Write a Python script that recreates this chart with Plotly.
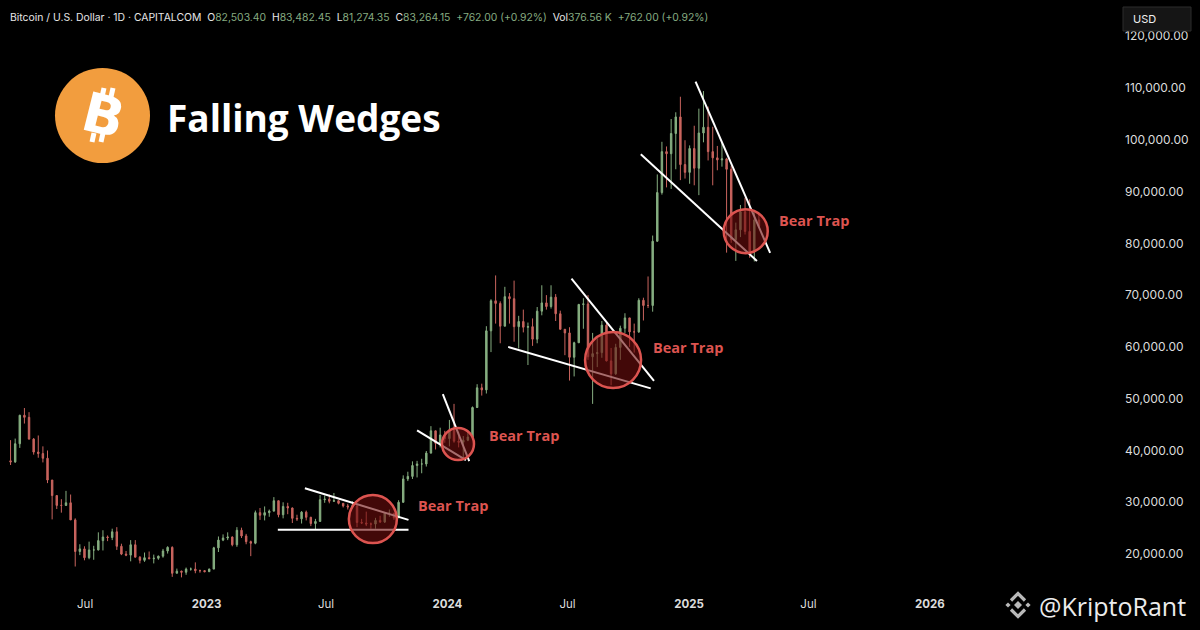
import numpy as np
import pandas as pd
import plotly.graph_objects as go

# ---- weekly candles, Bitcoin / U.S. Dollar, values in thousands of USD ----
first_week = "2022-03-10"   # mid-week of first candle, one candle per week

opens = [
    # 2022
    38.0, 37.8, 41.3, 46.8, 46.4, 42.2, 39.7, 39.4, 38.5, 34.3, 31.3, 29.4, 29.4, 29.9, 26.6,
    20.5, 21.0, 19.3, 20.8, 20.8, 22.6, 23.3, 23.2, 24.3, 21.5, 20.0, 19.8, 21.8, 19.4, 18.8,
    19.3, 19.1, 19.2, 19.6, 20.6, 21.3, 16.3, 16.7, 16.5, 17.1, 17.1, 16.8, 16.8,
    # 2023
    16.6, 17.1, 21.2, 22.7, 23.1, 23.3, 21.8, 24.6, 23.5, 22.4, 22.1, 28.0, 27.5, 28.0, 28.3,
    30.3, 27.6, 29.2, 28.9, 26.9, 26.8, 28.1, 27.1, 25.9, 26.3, 30.5, 30.6, 30.2, 30.3, 29.8,
    29.3, 29.1, 29.3, 26.1, 26.0, 25.8, 25.8, 26.5, 26.2, 27.9, 27.9, 27.0, 30.0, 34.5, 35.0,
    37.1, 37.4, 37.4, 39.5, 43.8, 41.4, 43.0,
    # 2024
    42.3, 43.9, 41.8, 41.6, 42.0, 42.6, 48.3, 52.1, 51.7, 63.1, 68.9, 68.4, 64.0, 69.7, 69.3,
    63.9, 64.9, 63.8, 63.9, 61.5, 66.9, 68.5, 67.8, 69.6, 66.4, 63.4, 62.7, 58.0, 60.8, 68.2,
    68.3, 58.1, 58.7, 58.9, 64.2, 57.3, 54.8, 59.9, 63.6, 65.6, 62.9, 62.9, 69.0, 68.0, 68.0,
    80.4, 89.8, 97.7, 97.3, 101.2, 104.4, 95.2, 93.7,
    # 2025
    98.3, 94.5, 101.3, 102.4, 97.7, 96.5, 96.1, 96.3, 94.3, 80.7, 82.6, 86.1, 82.3, 78.4, 84.5,
]
highs = [
    42.0, 42.3, 46.9, 48.2, 47.4, 42.4, 42.9, 40.8, 40.0, 34.3, 31.3, 30.6, 32.2, 31.5, 26.9,
    21.9, 21.5, 22.4, 21.6, 24.2, 24.6, 23.6, 24.9, 25.2, 22.0, 20.6, 22.7, 22.7, 19.6, 20.3,
    20.5, 19.9, 19.7, 21.0, 21.5, 21.5, 17.2, 16.8, 17.4, 17.4, 18.4, 17.0, 16.9,
    17.2, 21.4, 23.4, 23.8, 24.2, 23.4, 25.2, 25.1, 23.9, 22.6, 28.4, 28.9, 29.2, 28.6, 31.0,
    30.3, 30.0, 29.9, 29.0, 27.6, 28.3, 28.4, 27.2, 26.8, 31.4, 31.3, 31.5, 31.8, 30.4, 29.8,
    29.7, 30.2, 29.6, 26.8, 28.2, 26.1, 27.0, 27.4, 28.0, 28.6, 27.9, 30.4, 35.2, 35.9, 37.9,
    38.0, 38.4, 39.9, 44.7, 43.8, 44.4, 43.8,
    45.9, 49.0, 43.6, 42.8, 43.9, 48.5, 52.8, 52.9, 64.0, 69.2, 73.8, 68.8, 71.6, 70.4, 72.8,
    66.0, 67.2, 64.7, 65.5, 67.7, 71.9, 70.0, 71.9, 70.2, 67.0, 63.4, 63.8, 61.0, 68.3, 69.4,
    70.0, 62.7, 61.7, 65.0, 64.9, 59.8, 60.6, 64.1, 66.5, 65.6, 64.5, 69.4, 69.5, 73.6, 81.5,
    93.3, 99.6, 98.7, 104.0, 105.3, 108.3, 99.9, 98.9,
    102.7, 106.0, 109.4, 106.4, 102.5, 98.8, 99.5, 96.5, 95.0, 84.0, 87.4, 88.8, 88.5, 86.0, 85.8,
]
lows = [
    37.2, 37.6, 40.5, 45.2, 42.1, 39.2, 38.6, 37.7, 33.7, 26.7, 28.7, 28.0, 29.3, 26.6, 17.6,
    19.8, 18.8, 19.0, 18.9, 20.7, 20.7, 22.5, 22.7, 20.8, 19.8, 19.6, 18.6, 19.4, 18.2, 18.5,
    19.1, 18.2, 18.9, 19.3, 20.1, 15.6, 16.3, 15.5, 16.0, 16.8, 16.3, 16.4, 16.5,
    16.6, 17.1, 20.4, 22.5, 22.7, 21.5, 21.4, 23.1, 21.9, 19.6, 21.9, 26.6, 26.5, 27.2, 28.2,
    27.1, 26.9, 27.7, 26.0, 26.4, 25.9, 26.5, 25.4, 24.8, 26.3, 29.9, 29.8, 30.1, 29.6, 29.0,
    28.6, 28.8, 25.2, 25.8, 25.4, 24.9, 24.9, 26.0, 26.0, 27.2, 26.6, 27.0, 29.9, 34.1, 34.5,
    34.8, 35.6, 36.9, 39.4, 40.2, 40.6, 41.5,
    40.8, 41.5, 40.6, 38.5, 41.8, 42.3, 48.2, 50.6, 51.0, 59.0, 64.5, 60.7, 64.0, 64.5, 61.0,
    59.7, 62.8, 56.5, 60.2, 60.7, 66.1, 67.2, 67.4, 65.0, 63.4, 58.4, 53.5, 54.3, 60.8, 63.5,
    57.5, 49.0, 56.1, 57.9, 57.2, 52.6, 54.6, 57.5, 62.7, 60.0, 58.9, 62.7, 65.1, 67.5, 66.8,
    80.3, 89.4, 90.8, 90.5, 94.3, 92.2, 92.5, 91.5,
    91.2, 89.3, 99.5, 96.0, 91.2, 94.1, 94.8, 78.2, 80.1, 76.6, 81.2, 81.7, 77.2, 76.5, 83.0,
]
closes = [
    37.8, 41.3, 46.8, 46.4, 42.2, 39.7, 39.4, 38.5, 34.3, 31.3, 29.4, 29.4, 29.9, 26.6, 20.5,
    21.0, 19.3, 20.8, 20.8, 22.6, 23.3, 23.2, 24.3, 21.5, 20.0, 19.8, 21.8, 19.4, 18.8, 19.3,
    19.1, 19.2, 19.6, 20.6, 21.3, 16.3, 16.7, 16.5, 17.1, 17.1, 16.8, 16.8, 16.6,
    17.1, 21.2, 22.7, 23.1, 23.3, 21.8, 24.6, 23.5, 22.4, 22.1, 28.0, 27.5, 28.0, 28.3, 30.3,
    27.6, 29.2, 28.9, 26.9, 26.8, 28.1, 27.1, 25.9, 26.3, 30.5, 30.6, 30.2, 30.3, 29.8, 29.3,
    29.1, 29.3, 26.1, 26.0, 25.8, 25.8, 26.5, 26.2, 27.9, 27.9, 27.0, 30.0, 34.5, 35.0, 37.1,
    37.4, 37.4, 39.5, 43.8, 41.4, 43.0, 42.3,
    43.9, 41.8, 41.6, 42.0, 42.6, 48.3, 52.1, 51.7, 63.1, 68.9, 68.4, 64.0, 69.7, 69.3, 63.9,
    64.9, 63.8, 63.9, 61.5, 66.9, 68.5, 67.8, 69.6, 66.4, 63.4, 62.7, 58.0, 60.8, 68.2, 68.3,
    58.1, 58.7, 58.9, 64.2, 57.3, 54.8, 59.9, 63.6, 65.6, 62.9, 62.9, 69.0, 68.0, 68.0, 80.4,
    89.8, 97.7, 97.3, 101.2, 104.4, 95.2, 93.7, 98.3,
    94.5, 101.3, 102.4, 97.7, 96.5, 96.1, 96.3, 94.3, 80.7, 82.6, 86.1, 82.3, 78.4, 84.5, 83.3,
]

x_tick_dates = ["2022-07-01", "2023-01-01", "2023-07-01", "2024-01-01",
                "2024-07-01", "2025-01-01", "2025-07-01", "2026-01-01"]
x_tick_text = ["Jul", "<b>2023</b>", "Jul", "<b>2024</b>",
               "Jul", "<b>2025</b>", "Jul", "<b>2026</b>"]
y_ticks = [20000, 30000, 40000, 50000, 60000, 70000, 80000, 90000, 100000, 110000, 120000]

# wedge trend lines: (start date, start price, end date, end price)
wedge_lines = [
    ("2023-05-30", 32700, "2023-11-03", 26600),
    ("2023-04-19", 24700, "2023-11-03", 24700),
    ("2023-11-16", 43900, "2024-01-29", 38150),
    ("2023-12-25", 50900, "2024-02-03", 37950),
    ("2024-04-02", 60000, "2024-11-04", 52000),
    ("2024-07-07", 73200, "2024-11-09", 53450),
    ("2024-10-20", 97200, "2025-04-14", 76600),
    ("2025-01-11", 111200, "2025-05-04", 78150),
]
# "Bear Trap" marks
trap_dates = ["2023-09-10", "2024-01-17", "2024-09-08", "2025-03-28"]
trap_prices = [26750, 41250, 57450, 82350]
trap_radius = [24, 16, 28, 22]
label_dates = ["2023-11-15", "2024-03-01", "2024-11-04", "2025-05-14"]
label_prices = [29450, 42950, 59950, 84500]

GREEN, RED = "#86ae80", "#c9645e"
TRAP = "#dc5450"

dates = pd.date_range(first_week, periods=len(closes), freq="7D")
k = 1000
fig = go.Figure(go.Candlestick(
    x=dates, open=np.array(opens) * k, high=np.array(highs) * k,
    low=np.array(lows) * k, close=np.array(closes) * k,
    increasing=dict(line=dict(color=GREEN, width=1), fillcolor=GREEN),
    decreasing=dict(line=dict(color=RED, width=1), fillcolor=RED),
    whiskerwidth=0, hoverinfo="skip",
))

# plot area in pixels
ML, MT, PW, PH = 0, 25, 1110, 570
def px(x):
    return (x - ML) / PW
def py(y):
    return (MT + PH - y) / PH

shapes = []
for d0, p0, d1, p1 in wedge_lines:
    shapes.append(dict(type="line", xref="x", yref="y", x0=d0, y0=p0, x1=d1, y1=p1,
                       line=dict(color="white", width=2), layer="above"))
for d, p, r in zip(trap_dates, trap_prices, trap_radius):
    shapes.append(dict(type="circle", xref="x", yref="y", xsizemode="pixel", ysizemode="pixel",
                       xanchor=d, yanchor=p, x0=-r, x1=r, y0=-r, y1=r,
                       fillcolor="rgba(110,14,14,0.6)", line=dict(color=TRAP, width=2.5),
                       layer="above"))

# bitcoin logo
shapes.append(dict(type="circle", xref="paper", yref="paper",
                   x0=px(55), x1=px(150), y0=py(163), y1=py(68),
                   fillcolor="#f29d3e", line=dict(width=0), layer="above"))
for (xa, ya, xb, yb) in [(104, 88, 102, 97), (113, 88, 111, 97), (94, 133, 92, 142), (103, 133, 101, 142)]:
    shapes.append(dict(type="line", xref="paper", yref="paper", x0=px(xa), y0=py(ya),
                       x1=px(xb), y1=py(yb), line=dict(color="white", width=5), layer="above"))

def path(points, close=True):
    s = "M " + " L ".join(f"{px(a):.5f},{py(b):.5f}" for a, b in points)
    return s + (" Z" if close else "")

# USD box
shapes.append(dict(type="rect", xref="paper", yref="paper", x0=px(1123), x1=px(1191),
                   y0=py(31), y1=py(7), fillcolor="#151515",
                   line=dict(color="#2c2c2c", width=1), layer="above"))

# binance mark next to the watermark
cx, cy = 1018, 605
def off(pts):
    return [(cx + a, cy + b) for a, b in pts]
grey = "#b9b9b9"
for pts in [[(0, -4), (4, 0), (0, 4), (-4, 0)],
            [(-10, -2.6), (-7.4, 0), (-10, 2.6), (-12.6, 0)],
            [(10, -2.6), (12.6, 0), (10, 2.6), (7.4, 0)]]:
    shapes.append(dict(type="path", xref="paper", yref="paper", path=path(off(pts)),
                       fillcolor=grey, line=dict(width=0), layer="above"))
for pts in [[(-7, -4.5), (0, -11.5), (7, -4.5)], [(-7, 4.5), (0, 11.5), (7, 4.5)]]:
    shapes.append(dict(type="path", xref="paper", yref="paper", path=path(off(pts), close=False),
                       line=dict(color=grey, width=3.2), layer="above"))

annotations = []
for d, p in zip(label_dates, label_prices):
    annotations.append(dict(x=d, y=p, xref="x", yref="y", text="<b>Bear Trap</b>",
                            showarrow=False, xanchor="left", yanchor="middle",
                            font=dict(family="Open Sans", size=14.5, color=TRAP)))

hg = "#86ab80"
def g(t):
    return f"<span style='color:{hg}'>{t}</span>"
sp = "\u00a0\u00a0"
header = ("Bitcoin / U.S. Dollar · 1D · CAPITALCOM" + sp + "O" + g("82,503.40") + sp
          + "H" + g("83,482.45") + sp + "L" + g("81,274.35") + sp + "C" + g("83,264.15") + sp
          + g("+762.00 (+0.92%)") + sp + "Vol" + g("376.56\u00a0K") + sp + g("+762.00 (+0.92%)"))
annotations += [
    dict(x=px(8), y=py(18), xref="paper", yref="paper", text=header, showarrow=False,
         xanchor="left", yanchor="middle", font=dict(family="Inter", size=10.4, color="#e6e6e6")),
    dict(x=px(1131), y=py(19), xref="paper", yref="paper", text="USD", showarrow=False,
         xanchor="left", yanchor="middle", font=dict(family="Inter", size=11, color="#f0f0f0")),
    dict(x=px(103), y=py(115), xref="paper", yref="paper", text="<b>B</b>", showarrow=False,
         textangle=14, xanchor="center", yanchor="middle",
         font=dict(family="DejaVu Sans", size=54, color="white")),
    dict(x=px(165), y=py(118), xref="paper", yref="paper", text="<b>Falling Wedges</b>",
         showarrow=False, xanchor="left", yanchor="middle",
         font=dict(family="Open Sans", size=37, color="white")),
    dict(x=px(1037), y=py(606), xref="paper", yref="paper", text="@KriptoRant",
         showarrow=False, xanchor="left", yanchor="middle",
         font=dict(family="Open Sans", size=25, color="#ececec")),
]

fig.update_layout(
    width=1200, height=630,
    margin=dict(l=ML, r=1200 - ML - PW, t=MT, b=630 - MT - PH),
    paper_bgcolor="black", plot_bgcolor="black",
    showlegend=False, boxgap=0.55,
    shapes=shapes, annotations=annotations,
    xaxis=dict(range=["2022-02-22", "2026-10-01"], tickvals=x_tick_dates, ticktext=x_tick_text,
               showgrid=False, zeroline=False, showline=False, ticks="",
               rangeslider=dict(visible=False),
               tickfont=dict(family="Inter", size=11.5, color="#dcdcdc")),
    yaxis=dict(range=[12100, 122150], side="right", tickvals=y_ticks, tickformat=",.2f",
               showgrid=False, zeroline=False, showline=False, ticks="",
               ticklabelstandoff=14,
               tickfont=dict(family="Inter", size=12, color="#dcdcdc")),
)

fig.write_html("out.html", config={"displayModeBar": False},
               post_script="document.body.style.margin='0';document.body.style.background='#000';")
